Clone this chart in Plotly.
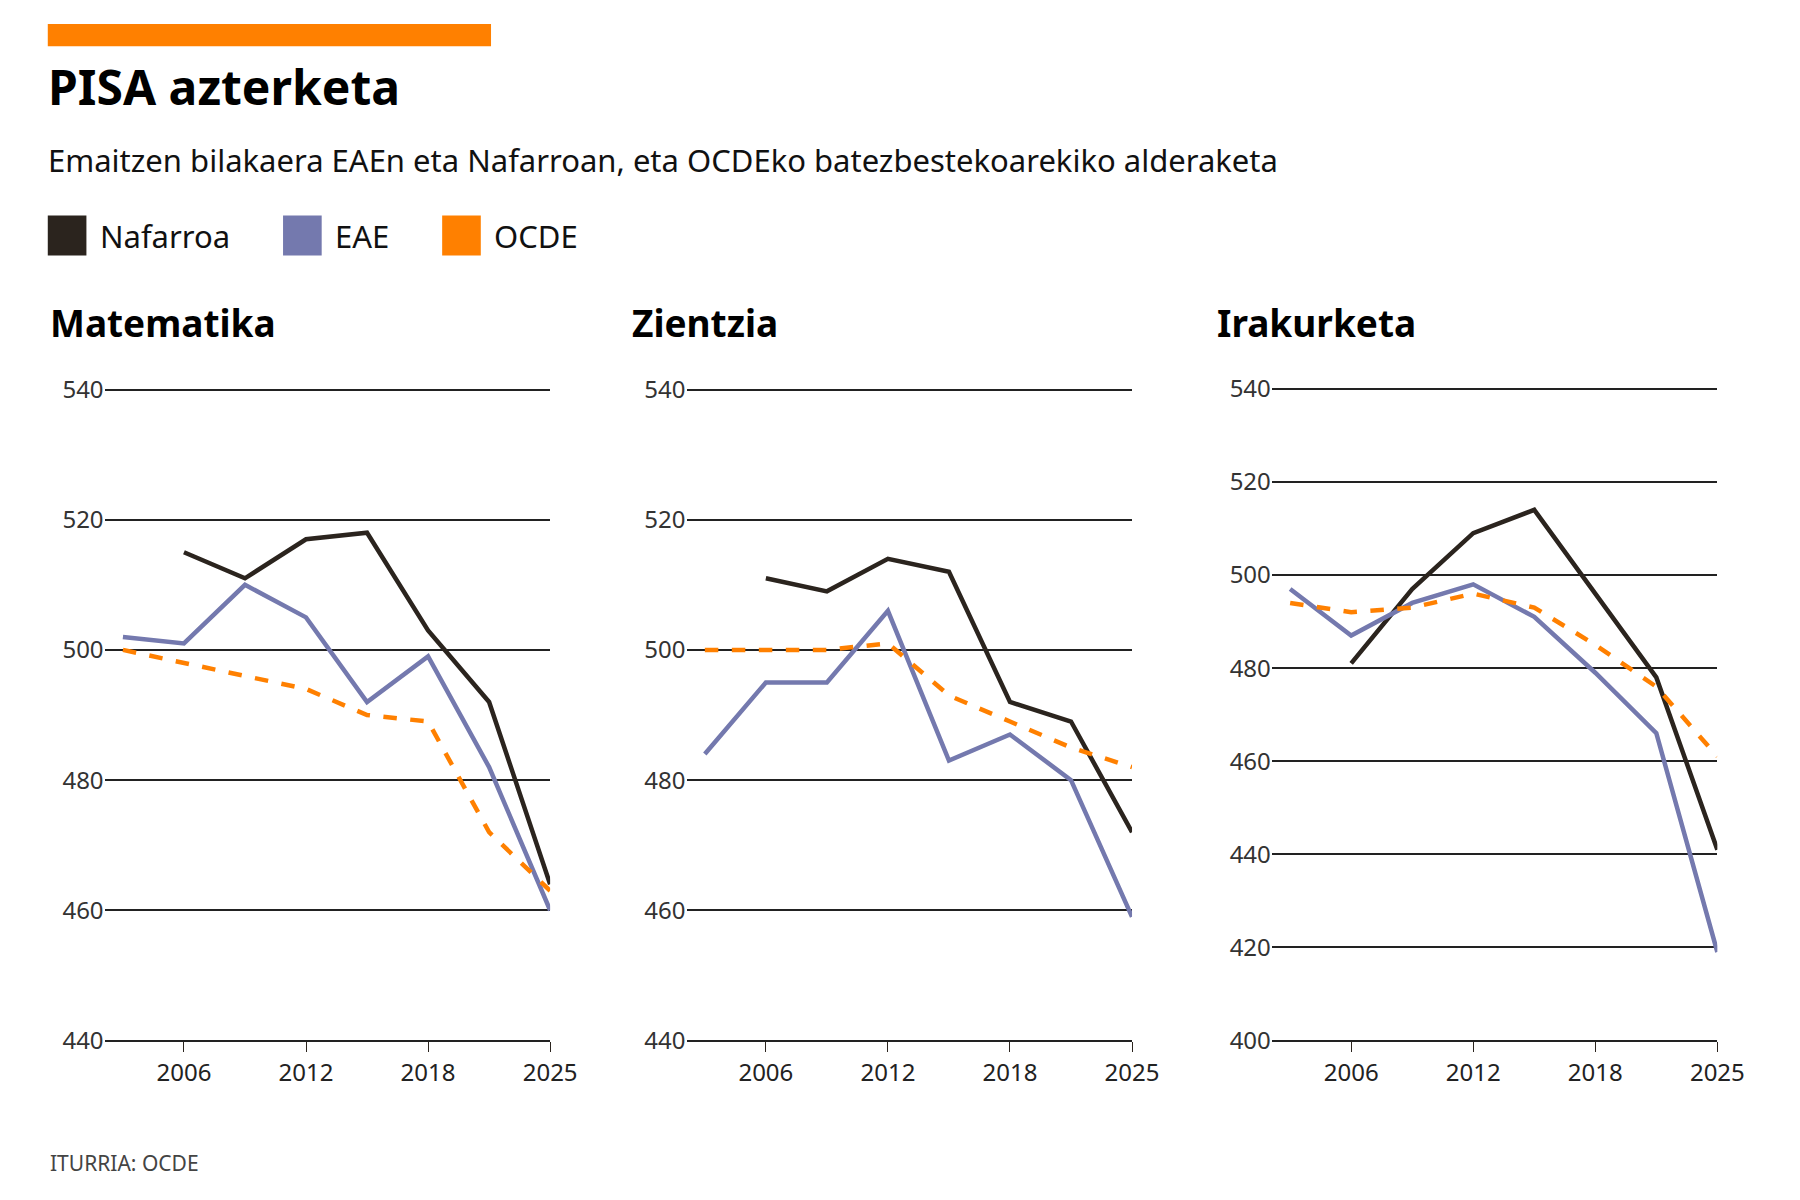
import plotly.graph_objects as go

years = ["2003", "2006", "2009", "2012", "2015", "2018", "2022", "2025"]
tick_labels = ["2006", "2012", "2018", "2025"]

mat_naf = [None, 515, 511, 517, 518, 503, 492, 464]
mat_eae = [502, 501, 510, 505, 492, 499, 482, 460]
mat_ocde = [500, 498, 496, 494, 490, 489, 472, 463]

zie_naf = [None, 511, 509, 514, 512, 492, 489, 472]
zie_eae = [484, 495, 495, 506, 483, 487, 480, 459]
zie_ocde = [500, 500, 500, 501, 493, 489, 485, 482]

ira_naf = [None, 481, 497, 509, 514, 496, 478, 441]
ira_eae = [497, 487, 494, 498, 491, 479, 466, 419]
ira_ocde = [494, 492, 493, 496, 493, 485, 476, 461]

BLACK = "#2b241e"
BLUE = "#7479ae"
ORANGE = "#ff8000"
FONT = "Noto Sans"
W, H = 1560, 1050  # reference layout units

def px(x):
    return x / W

def py(y):
    return 1 - y / H

fig = go.Figure()
panels = [
    ("Matematika", mat_naf, mat_eae, mat_ocde, 85, [440, 540], 20),
    ("Zientzia", zie_naf, zie_eae, zie_ocde, 597, [440, 540], 20),
    ("Irakurketa", ira_naf, ira_eae, ira_ocde, 1112, [400, 540], 20),
]
xs = list(range(len(years)))
for i, (name, naf, eae, ocde, x0, yr, dt) in enumerate(panels, start=1):
    xa = "x" if i == 1 else f"x{i}"
    ya = "y" if i == 1 else f"y{i}"
    fig.add_trace(go.Scatter(x=xs, y=naf, mode="lines", line=dict(color=BLACK, width=4.5),
                             xaxis=xa, yaxis=ya, showlegend=False))
    fig.add_trace(go.Scatter(x=xs, y=eae, mode="lines", line=dict(color=BLUE, width=4.5),
                             xaxis=xa, yaxis=ya, showlegend=False))
    fig.add_trace(go.Scatter(x=xs, y=ocde, mode="lines", line=dict(color=ORANGE, width=4.5, dash="dash"),
                             xaxis=xa, yaxis=ya, showlegend=False))
    fig.layout[f"xaxis{'' if i == 1 else i}"] = dict(
        domain=[px(x0), px(x0 + 392)], range=[-0.3, 7], anchor=ya,
        tickvals=[1, 3, 5, 7], ticktext=tick_labels, showgrid=False,
        showline=True, linecolor="#222", linewidth=1.5,
        ticks="outside", ticklen=10, tickcolor=BLACK,
        tickfont=dict(family=FONT, size=24, color="#222"), zeroline=False)
    fig.layout[f"yaxis{'' if i == 1 else i}"] = dict(
        domain=[py(913), py(326)], range=[yr[0], yr[1] + 0.4], anchor=xa, dtick=dt,
        tick0=yr[0], showgrid=True, gridcolor="#222", gridwidth=1.5,
        zeroline=False, ticklabelposition="outside",
        tickfont=dict(family=FONT, size=24, color="#333"), ticklen=0)
    fig.add_annotation(text=f"<b>{name}</b>", x=px(x0 - 50), y=py(268), xref="paper", yref="paper",
                       xanchor="left", yanchor="middle", showarrow=False,
                       font=dict(family=FONT, size=37, color="#000"))

fig.add_shape(type="rect", xref="paper", yref="paper", x0=px(35), x1=px(425), y0=py(20), y1=1,
              fillcolor=ORANGE, line_width=0)
fig.add_annotation(text="<b>PISA azterketa</b>", x=px(33), y=py(56), xref="paper", yref="paper",
                   xanchor="left", yanchor="middle", showarrow=False,
                   font=dict(family=FONT, size=48, color="#000"))
fig.add_annotation(text="Emaitzen bilakaera EAEn eta Nafarroan, eta OCDEko batezbestekoarekiko alderaketa",
                   x=px(33), y=py(122), xref="paper", yref="paper", xanchor="left", yanchor="middle",
                   showarrow=False, font=dict(family=FONT, size=31, color="#111"))
for lx, lab, col in [(35, "Nafarroa", BLACK), (242, "EAE", BLUE), (382, "OCDE", ORANGE)]:
    fig.add_shape(type="rect", xref="paper", yref="paper", x0=px(lx), x1=px(lx + 34),
                  y0=py(208), y1=py(172), fillcolor=col, line_width=0)
    fig.add_annotation(text=lab, x=px(lx + 44), y=py(190), xref="paper", yref="paper",
                       xanchor="left", yanchor="middle", showarrow=False,
                       font=dict(family=FONT, size=31, color="#111"))
fig.add_annotation(text="ITURRIA: OCDE", x=px(35), y=py(1023), xref="paper", yref="paper",
                   xanchor="left", yanchor="middle", showarrow=False,
                   font=dict(family=FONT, size=21, color="#444"))

fig.update_layout(width=1800, height=1200, margin=dict(l=0, r=0, t=0, b=0),
                  plot_bgcolor="white", paper_bgcolor="white")
fig.write_html("out.html")
